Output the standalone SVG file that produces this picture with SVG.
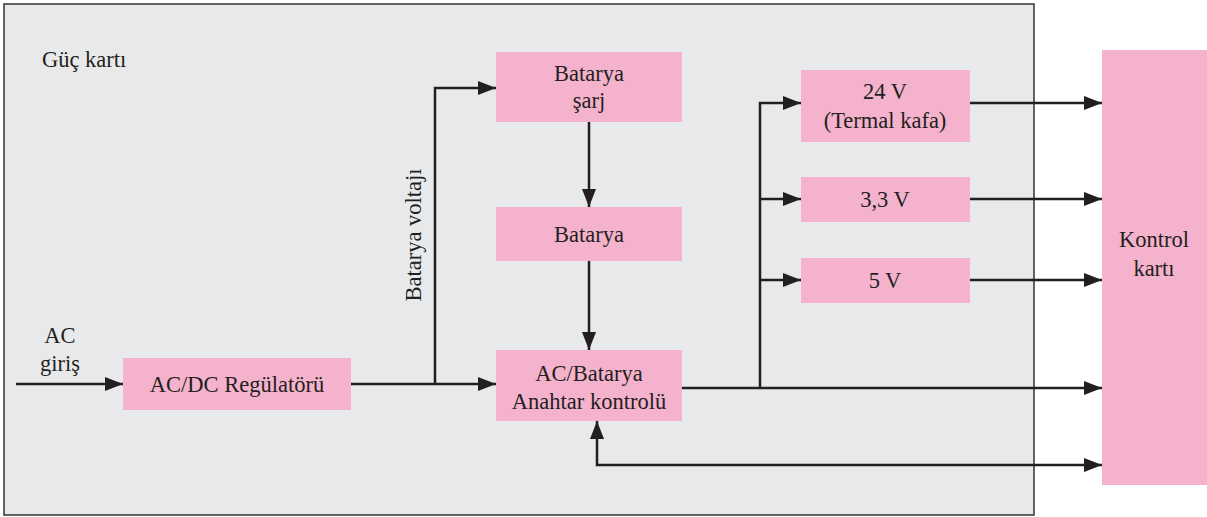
<svg xmlns="http://www.w3.org/2000/svg" width="1207" height="517" viewBox="0 0 1207 517">
<defs>
<style>
.box{fill:#f5b2cc}
.t{font-family:"Liberation Serif","Times New Roman",serif;font-size:22.5px;fill:#231f20;text-anchor:middle}
.c{fill:none;stroke:#231f20;stroke-width:2.5}
</style>
<marker id="ah" markerUnits="userSpaceOnUse" markerWidth="20" markerHeight="14" refX="18" refY="7" orient="auto-start-reverse">
<path d="M0,0 L18,7 L0,14 Z" fill="#231f20"/>
</marker>
</defs>
<rect width="1207" height="517" fill="#ffffff"/>
<g id="guc-karti">
<rect x="4" y="4" width="1030" height="511" fill="#e8e9eb" stroke="#333" stroke-width="1.5"/>
<text class="t" x="42" y="67" style="text-anchor:start">Güç kartı</text>
</g>
<g id="connectors">
<path class="c" d="M16,384 H123" marker-end="url(#ah)"/>
<path class="c" d="M351,384 H496" marker-end="url(#ah)"/>
<path class="c" d="M435,384 V88 H496" marker-end="url(#ah)"/>
<path class="c" d="M589,122 V207" marker-end="url(#ah)"/>
<path class="c" d="M589,261 V350" marker-end="url(#ah)"/>
<path class="c" d="M682,388 H1102" marker-end="url(#ah)"/>
<path class="c" d="M760,388 V103 H801" marker-end="url(#ah)"/>
<path class="c" d="M760,199 H801" marker-end="url(#ah)"/>
<path class="c" d="M760,280 H801" marker-end="url(#ah)"/>
<path class="c" d="M970,103 H1102" marker-end="url(#ah)"/>
<path class="c" d="M970,199 H1102" marker-end="url(#ah)"/>
<path class="c" d="M970,280 H1102" marker-end="url(#ah)"/>
<path class="c" d="M597,421 V465 H1102" marker-start="url(#ah)" marker-end="url(#ah)"/>
<text class="t" x="60" y="343">AC</text>
<text class="t" x="60" y="371">giriş</text>
<text class="t" transform="translate(421,235) rotate(-90)">Batarya voltajı</text>
</g>
<g id="acdc">
<rect class="box" x="123" y="358" width="228" height="52"/>
<text class="t" x="237" y="392">AC/DC Regülatörü</text>
</g>
<g id="batarya-sarj">
<rect class="box" x="496" y="52" width="186" height="70"/>
<text class="t" x="589" y="81">Batarya</text>
<text class="t" x="589" y="108">şarj</text>
</g>
<g id="batarya">
<rect class="box" x="496" y="207" width="186" height="54"/>
<text class="t" x="589" y="242">Batarya</text>
</g>
<g id="anahtar">
<rect class="box" x="496" y="350" width="186" height="71"/>
<text class="t" x="589" y="381">AC/Batarya</text>
<text class="t" x="589" y="409">Anahtar kontrolü</text>
</g>
<g id="v24">
<rect class="box" x="801" y="70" width="169" height="72"/>
<text class="t" x="885" y="99">24 V</text>
<text class="t" x="885" y="128">(Termal kafa)</text>
</g>
<g id="v33">
<rect class="box" x="801" y="177" width="169" height="45"/>
<text class="t" x="885" y="207">3,3 V</text>
</g>
<g id="v5">
<rect class="box" x="801" y="258" width="169" height="45"/>
<text class="t" x="885" y="288">5 V</text>
</g>
<g id="kontrol">
<rect class="box" x="1102" y="50" width="105" height="435"/>
<text class="t" x="1154" y="247">Kontrol</text>
<text class="t" x="1154" y="276">kartı</text>
</g>
</svg>
